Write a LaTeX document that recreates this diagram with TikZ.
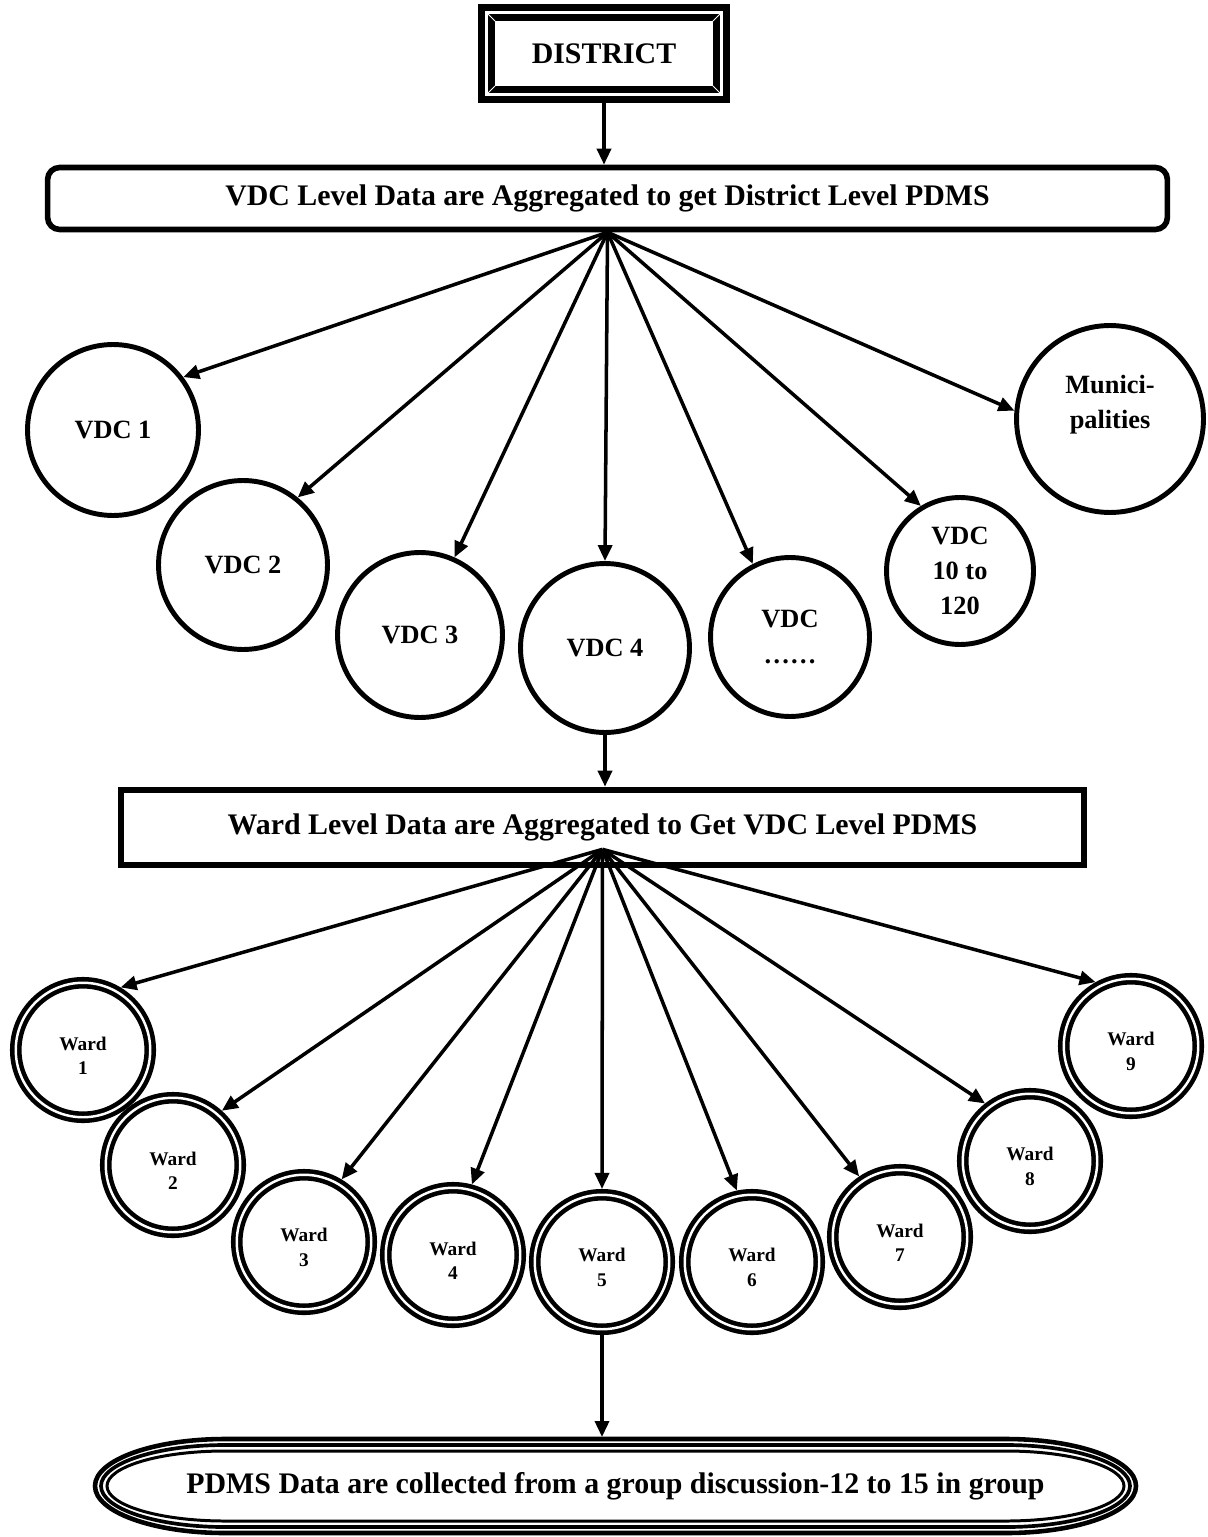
\documentclass[tikz,border=0pt]{standalone}
\usepackage{fontspec}
\setmainfont{Liberation Serif}
\usetikzlibrary{arrows.meta, calc, positioning}

\tikzset{
    vdc/.style = {draw, circle, line width=2.8pt, inner sep=0pt, align=center,
        font=\fontsize{15}{20}\selectfont\bfseries},
    ward/.style = {draw, circle, line width=2.6pt, double, double distance=1.4pt,
        outer sep=3.3pt, inner sep=0pt, minimum size=2.69cm, align=center,
        font=\fontsize{11}{14}\selectfont\bfseries},
    banner/.style = {draw, inner sep=0pt, align=center,
        font=\fontsize{17}{20}\selectfont\bfseries},
    arr/.style = {-{Triangle[length=0.32cm, width=0.28cm]}, line width=2pt},
}

\begin{document}
\begin{tikzpicture}[x=0.02cm, y=-0.02cm]
        \useasboundingbox (0,0) rectangle (1207,1537);

        % top of the tree
        \node [banner, line width=4.2pt, double, double distance=1.3pt, outer sep=0.17cm,
               minimum width=4.7cm, minimum height=1.64cm] (district) at (604,53.5) {DISTRICT};
        \foreach \a/\sx/\sy in {north west/1/1, north east/-1/1, south west/1/-1, south east/-1/-1}{
            \draw [white, line width=0.5pt] ([shift={(\sx*10,\sy*10)}]district.\a) -- ++(\sx*7,\sy*7);
        }

        \node [banner, line width=3.2pt, rounded corners=0.24cm,
               minimum width=22.4cm, minimum height=1.24cm] (vdclvl) at (607.5,198.5)
              {VDC Level Data are Aggregated to get District Level PDMS};
        \draw [arr] (district.south) -- (district.south |- vdclvl.north);

        % VDC level
        \node [vdc, minimum size=3.42cm] (vdc1) at (113,430) {VDC 1};
        \node [vdc, minimum size=3.38cm] (vdc2) at (243,565) {VDC 2};
        \node [vdc, minimum size=3.30cm] (vdc3) at (420,635) {VDC 3};
        \node [vdc, minimum size=3.38cm] (vdc4) at (605,648) {VDC 4};
        \node [vdc, minimum size=3.18cm] (vdc5) at (790,637) {VDC\\……};
        \node [vdc, minimum size=2.94cm] (vdc6) at (960,571) {VDC\\10 to\\120};
        \node [vdc, minimum size=3.74cm] (muni) at (1110,419) {Munici-\\palities\\\mbox{}};

        \coordinate (vhub) at (vdclvl.south);
        \foreach \n/\a in {vdc1/37, vdc2/51, vdc3/66, vdc4/90, vdc5/117, vdc6/121, muni/175}{
            \draw [arr] (vhub) -- (\n.\a);
        }

        % ward level
        \node [banner, line width=3.8pt, minimum width=19.26cm, minimum height=1.5cm] (wardlvl)
              at (602.5,827.5) {Ward Level Data are Aggregated to Get VDC Level PDMS};
        \draw [arr] (vdc4.south) -- (vdc4.south |- wardlvl.north);

        \foreach \n/\x/\y in {1/83/1050, 2/173/1165, 3/304/1242, 4/453/1255, 5/602/1262,
                              6/752/1262, 7/900/1237, 8/1030/1161, 9/1131/1046}{
            \node [ward] (w\n) at (\x,\y) {\mbox{}\\Ward\\\n};
        }

        \coordinate (whub) at ([yshift=0.38cm]wardlvl.south);
        \foreach \n/\a in {1/59, 2/48, 3/59, 4/75, 5/90, 6/102, 7/124, 8/128, 9/119}{
            \draw [arr] (whub) -- (w\n.\a);
        }

        % data collection
        \node [banner, draw=none, minimum width=20.9cm, minimum height=1.96cm, outer sep=0pt] (pdms)
              at (615.5,1486) {PDMS Data are collected from a group discussion-12 to 15 in group};
        \foreach \d/\w in {0/2.6pt, 6/2.1pt, 12/1.7pt}{
            \pgfmathsetmacro{\L}{95+\d}
            \pgfmathsetmacro{\R}{1136-\d}
            \pgfmathsetmacro{\T}{1439+\d}
            \pgfmathsetmacro{\B}{1533-\d}
            \pgfmathsetmacro{\rx}{130-\d}
            \pgfmathsetmacro{\ry}{47-\d}
            \draw [line width=\w] (\L+\rx,\T) -- (\R-\rx,\T)
                .. controls (\R-0.448*\rx,\T) and (\R,1486-0.552*\ry) .. (\R,1486)
                .. controls (\R,1486+0.552*\ry) and (\R-0.448*\rx,\B) .. (\R-\rx,\B)
                -- (\L+\rx,\B)
                .. controls (\L+0.448*\rx,\B) and (\L,1486+0.552*\ry) .. (\L,1486)
                .. controls (\L,1486-0.552*\ry) and (\L+0.448*\rx,\T) .. cycle;
        }
        \draw [arr] (w5.south) -- (w5.south |- pdms.north);
\end{tikzpicture}
\end{document}
